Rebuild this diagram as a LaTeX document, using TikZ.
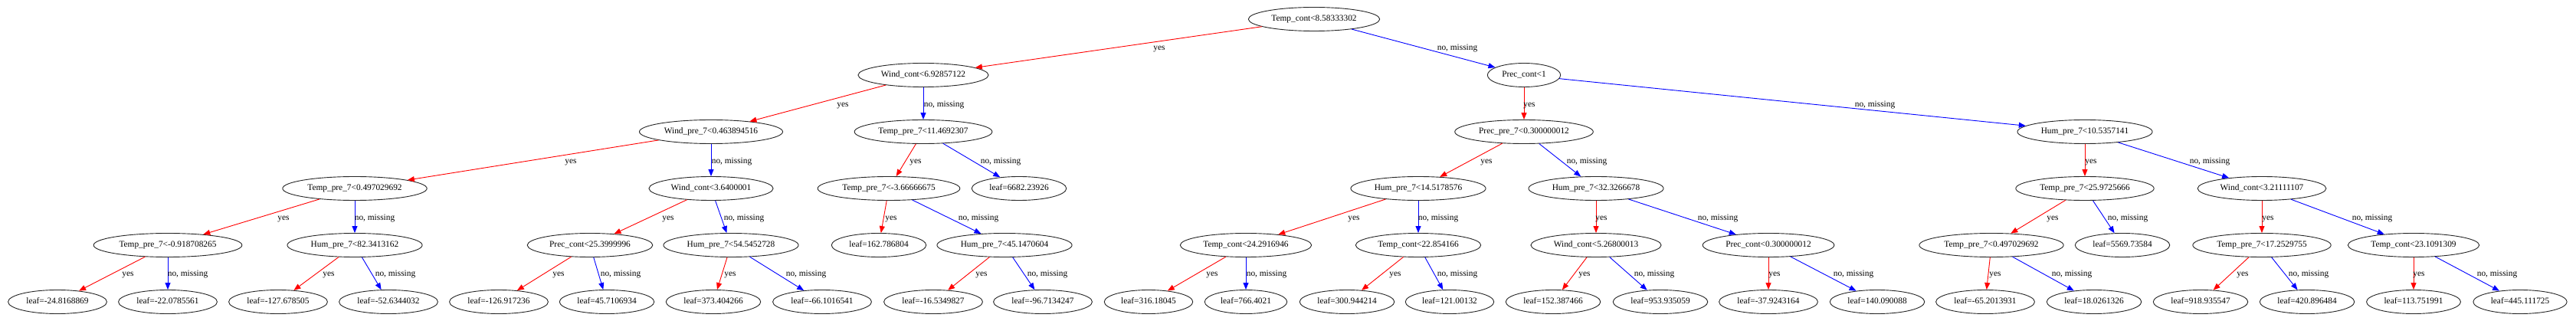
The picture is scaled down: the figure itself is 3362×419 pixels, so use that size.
\documentclass[tikz,border=0pt]{standalone}
\usepackage{fontspec}
\setmainfont{Liberation Serif}
\usetikzlibrary{arrows.meta,shapes.geometric}
\begin{document}
\begin{tikzpicture}[x=1pt,y=-1pt,
  tn/.style={ellipse, draw=black!85, line width=0.9pt, inner xsep=5pt, inner ysep=1pt,
    minimum height=31pt, font=\fontsize{11.35}{13}\selectfont, text height=8pt, text depth=2.5pt},
  yesedge/.style={draw=red, line width=0.9pt, -{Triangle[length=9pt,width=7pt]}},
  noedge/.style={draw=blue, line width=0.9pt, -{Triangle[length=9pt,width=7pt]}},
  lbl/.style={font=\fontsize{11.35}{13}\selectfont, anchor=base, inner sep=0pt}]
\useasboundingbox[fill=white] (0,0) rectangle (3362,419);
% level 0-1-2
\node[tn] (root) at (1715,25) {Temp\_cont<8.58333302};
\node[tn] (n1) at (1205,98) {Wind\_cont<6.92857122};
\node[tn] (n2) at (1989,98) {Prec\_cont<1};
\node[tn] (n3) at (928,172) {Wind\_pre\_7<0.463894516};
\node[tn] (n4) at (1205,172) {Temp\_pre\_7<11.4692307};
\node[tn] (n5) at (1989,172) {Prec\_pre\_7<0.300000012};
\node[tn] (n6) at (2721,172) {Hum\_pre\_7<10.5357141};
% level 3
\node[tn] (n7) at (463,246) {Temp\_pre\_7<0.497029692};
\node[tn] (n8) at (928,246) {Wind\_cont<3.6400001};
\node[tn] (n9) at (1160,246) {Temp\_pre\_7<-3.66666675};
\node[tn] (l6682) at (1330,246) {leaf=6682.23926};
\node[tn] (n10) at (1851,246) {Hum\_pre\_7<14.5178576};
\node[tn] (n11) at (2083,246) {Hum\_pre\_7<32.3266678};
\node[tn] (n12) at (2721,246) {Temp\_pre\_7<25.9725666};
\node[tn] (n13) at (2952,246) {Wind\_cont<3.21111107};
% level 4
\node[tn] (n14) at (219,320) {Temp\_pre\_7<-0.918708265};
\node[tn] (n15) at (463,320) {Hum\_pre\_7<82.3413162};
\node[tn] (n16) at (770,320) {Prec\_cont<25.3999996};
\node[tn] (n17) at (954,320) {Hum\_pre\_7<54.5452728};
\node[tn] (l162) at (1147,320) {leaf=162.786804};
\node[tn] (n18) at (1311,320) {Hum\_pre\_7<45.1470604};
\node[tn] (n19) at (1626,320) {Temp\_cont<24.2916946};
\node[tn] (n20) at (1851,320) {Temp\_cont<22.854166};
\node[tn] (n21) at (2083,320) {Wind\_cont<5.26800013};
\node[tn] (n22) at (2308,320) {Prec\_cont<0.300000012};
\node[tn] (n23) at (2599,320) {Temp\_pre\_7<0.497029692};
\node[tn] (l5569) at (2770,320) {leaf=5569.73584};
\node[tn] (n24) at (2952,320) {Temp\_pre\_7<17.2529755};
\node[tn] (n25) at (3150,320) {Temp\_cont<23.1091309};
% leaves
\node[tn] (a1) at (75,394) {leaf=-24.8168869};
\node[tn] (a2) at (219,394) {leaf=-22.0785561};
\node[tn] (a3) at (363,394) {leaf=-127.678505};
\node[tn] (a4) at (507,394) {leaf=-52.6344032};
\node[tn] (a5) at (651,394) {leaf=-126.917236};
\node[tn] (a6) at (792,394) {leaf=45.7106934};
\node[tn] (a7) at (931,394) {leaf=373.404266};
\node[tn] (a8) at (1073,394) {leaf=-66.1016541};
\node[tn] (a9) at (1218,394) {leaf=-16.5349827};
\node[tn] (a10) at (1361,394) {leaf=-96.7134247};
\node[tn] (a11) at (1499,394) {leaf=316.18045};
\node[tn] (a12) at (1626,394) {leaf=766.4021};
\node[tn] (a13) at (1758,394) {leaf=300.944214};
\node[tn] (a14) at (1892,394) {leaf=121.00132};
\node[tn] (a15) at (2027,394) {leaf=152.387466};
\node[tn] (a16) at (2167,394) {leaf=953.935059};
\node[tn] (a17) at (2308,394) {leaf=-37.9243164};
\node[tn] (a18) at (2450,394) {leaf=140.090088};
\node[tn] (a19) at (2591,394) {leaf=-65.2013931};
\node[tn] (a20) at (2733,394) {leaf=18.0261326};
\node[tn] (a21) at (2872,394) {leaf=918.935547};
\node[tn] (a22) at (3011,394) {leaf=420.896484};
\node[tn] (a23) at (3150,394) {leaf=113.751991};
\node[tn] (a24) at (3289,394) {leaf=445.111725};
% edges
\draw[yesedge] (root) -- (n1); \draw[noedge] (root) -- (n2);
\draw[yesedge] (n1) -- (n3); \draw[noedge] (n1) -- (n4);
\draw[yesedge] (n2) -- (n5); \draw[noedge] (n2) -- (n6);
\draw[yesedge] (n3) -- (n7); \draw[noedge] (n3) -- (n8);
\draw[yesedge] (n4) -- (n9); \draw[noedge] (n4) -- (l6682);
\draw[yesedge] (n5) -- (n10); \draw[noedge] (n5) -- (n11);
\draw[yesedge] (n6) -- (n12); \draw[noedge] (n6) -- (n13);
\draw[yesedge] (n7) -- (n14); \draw[noedge] (n7) -- (n15);
\draw[yesedge] (n8) -- (n16); \draw[noedge] (n8) -- (n17);
\draw[yesedge] (n9) -- (l162); \draw[noedge] (n9) -- (n18);
\draw[yesedge] (n10) -- (n19); \draw[noedge] (n10) -- (n20);
\draw[yesedge] (n11) -- (n21); \draw[noedge] (n11) -- (n22);
\draw[yesedge] (n12) -- (n23); \draw[noedge] (n12) -- (l5569);
\draw[yesedge] (n13) -- (n24); \draw[noedge] (n13) -- (n25);
\draw[yesedge] (n14) -- (a1); \draw[noedge] (n14) -- (a2);
\draw[yesedge] (n15) -- (a3); \draw[noedge] (n15) -- (a4);
\draw[yesedge] (n16) -- (a5); \draw[noedge] (n16) -- (a6);
\draw[yesedge] (n17) -- (a7); \draw[noedge] (n17) -- (a8);
\draw[yesedge] (n18) -- (a9); \draw[noedge] (n18) -- (a10);
\draw[yesedge] (n19) -- (a11); \draw[noedge] (n19) -- (a12);
\draw[yesedge] (n20) -- (a13); \draw[noedge] (n20) -- (a14);
\draw[yesedge] (n21) -- (a15); \draw[noedge] (n21) -- (a16);
\draw[yesedge] (n22) -- (a17); \draw[noedge] (n22) -- (a18);
\draw[yesedge] (n23) -- (a19); \draw[noedge] (n23) -- (a20);
\draw[yesedge] (n24) -- (a21); \draw[noedge] (n24) -- (a22);
\draw[yesedge] (n25) -- (a23); \draw[noedge] (n25) -- (a24);
% labels
\node[lbl] (y0) at (1513,66) {yes}; \node[lbl] (m0) at (1902,66) {no, missing};
\node[lbl] (y1) at (1100,140) {yes}; \node[lbl] (m1) at (1232,140) {no, missing};
\node[lbl] (y2) at (1996,140) {yes}; \node[lbl] (m2) at (2447,140) {no, missing};
\node[lbl] (y3) at (745,214) {yes}; \node[lbl] (m3) at (955,214) {no, missing};
\node[lbl] (y4) at (1195,214) {yes}; \node[lbl] (m4) at (1306,214) {no, missing};
\node[lbl] (y5) at (1940,214) {yes}; \node[lbl] (m5) at (2071,214) {no, missing};
\node[lbl] (y6) at (2729,214) {yes}; \node[lbl] (m6) at (2884,214) {no, missing};
\node[lbl] (y7) at (370,288) {yes}; \node[lbl] (m7) at (489,288) {no, missing};
\node[lbl] (y8) at (872,288) {yes}; \node[lbl] (m8) at (971,288) {no, missing};
\node[lbl] (y9) at (1163,288) {yes}; \node[lbl] (m9) at (1277,288) {no, missing};
\node[lbl] (y10) at (1767,288) {yes}; \node[lbl] (m10) at (1877,288) {no, missing};
\node[lbl] (y11) at (2090,288) {yes}; \node[lbl] (m11) at (2242,288) {no, missing};
\node[lbl] (y12) at (2679,288) {yes}; \node[lbl] (m12) at (2777,288) {no, missing};
\node[lbl] (y13) at (2960,288) {yes}; \node[lbl] (m13) at (3096,288) {no, missing};
\node[lbl] (y14) at (167,361) {yes}; \node[lbl] (m14) at (245,361) {no, missing};
\node[lbl] (y15) at (429,361) {yes}; \node[lbl] (m15) at (516,361) {no, missing};
\node[lbl] (y16) at (729,361) {yes}; \node[lbl] (m16) at (810,361) {no, missing};
\node[lbl] (y17) at (953,361) {yes}; \node[lbl] (m17) at (1052,361) {no, missing};
\node[lbl] (y18) at (1281,361) {yes}; \node[lbl] (m18) at (1367,361) {no, missing};
\node[lbl] (y19) at (1582,361) {yes}; \node[lbl] (m19) at (1653,361) {no, missing};
\node[lbl] (y20) at (1821,361) {yes}; \node[lbl] (m20) at (1902,361) {no, missing};
\node[lbl] (y21) at (2068,361) {yes}; \node[lbl] (m21) at (2159,361) {no, missing};
\node[lbl] (y22) at (2316,361) {yes}; \node[lbl] (m22) at (2419,361) {no, missing};
\node[lbl] (y23) at (2604,361) {yes}; \node[lbl] (m23) at (2704,361) {no, missing};
\node[lbl] (y24) at (2927,361) {yes}; \node[lbl] (m24) at (3013,361) {no, missing};
\node[lbl] (y25) at (3157,361) {yes}; \node[lbl] (m25) at (3259,361) {no, missing};
\end{tikzpicture}
\end{document}
